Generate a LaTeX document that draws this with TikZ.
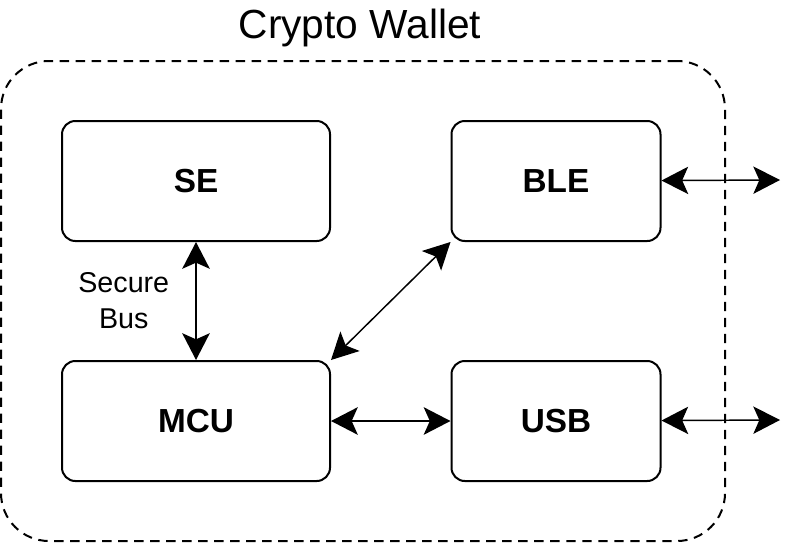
\documentclass[tikz,border=0pt]{standalone}
\usepackage{fontspec}
\setmainfont{Liberation Sans}
\usetikzlibrary{arrows.meta}

\begin{document}
\begin{tikzpicture}[x=0.75pt, y=-0.75pt, node distance=270pt,
    box/.style={rectangle, rounded corners=10pt, draw, line width=1.5pt, minimum height=90pt,
        font=\fontsize{25}{30}\selectfont\bfseries},
    widebox/.style={box, minimum width=201pt},
    smallbox/.style={box, minimum width=156.75pt},
    link/.style={{Stealth[length=20pt,width=20.5pt,inset=4.5pt]}-{Stealth[length=20pt,width=20.5pt,inset=4.5pt]}, line width=1.1pt},
    buslink/.style={link, line width=2.2pt}]

    \useasboundingbox (0,0) rectangle (810,543);

    % outer casing
    \node[draw, dashed, dash pattern=on 7pt off 5pt, line width=1.5pt, rounded corners=36pt,
        minimum width=543pt, minimum height=360pt] (wallet) at (363,301) {};
    \node[anchor=base, font=\fontsize{30.5}{36}\selectfont] (title) at (360,38) {Crypto Wallet};

    \node[widebox] (SE) at (196,181) {SE};
    \node[smallbox, right of=SE] (BLE) {BLE};
    \node[widebox, below of=SE, node distance=180pt] (MCU) {MCU};
    \node[smallbox, right of=MCU] (USB) {USB};

    \coordinate (BLEout) at (780,180);
    \coordinate (USBout) at (780,420);

    \draw[buslink] (SE) -- node[midway, left=19pt, inner sep=0pt, align=center,
        font=\fontsize{21.5}{27}\selectfont] (buslabel) {Secure\\Bus} (MCU);
    \draw[link] (MCU.north east) -- (BLE.south west);
    \draw[buslink] (MCU) -- (USB);

    % outside world
    \draw[link] (BLE) -- (BLEout);
    \draw[link] (USB) -- (USBout);
\end{tikzpicture}
\end{document}
